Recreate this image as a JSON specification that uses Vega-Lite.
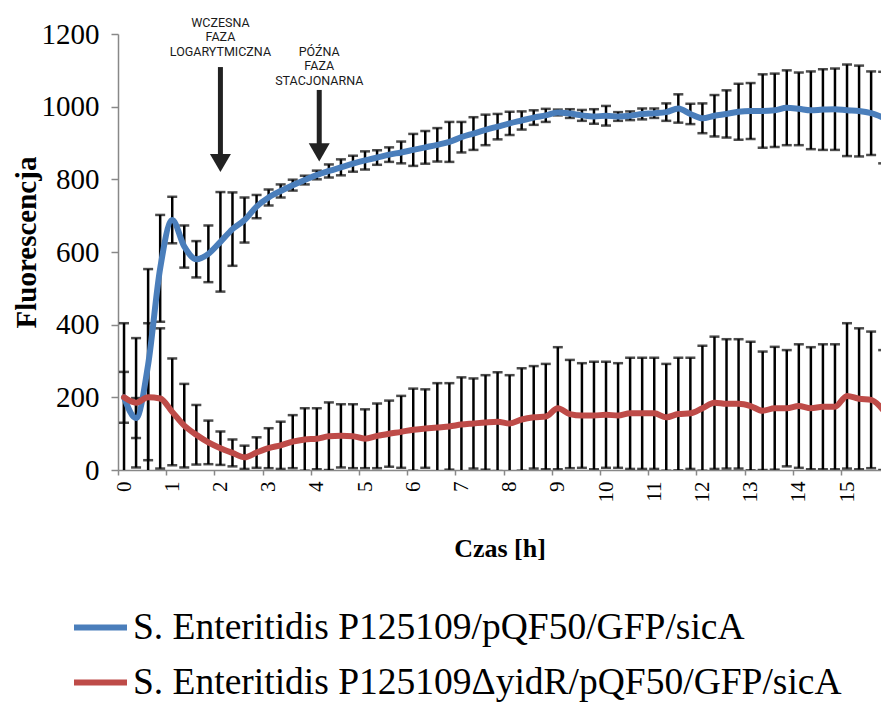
{
  "$schema": "https://vega.github.io/schema/vega-lite/v6.json",
  "width": 763,
  "height": 436,
  "autosize": {"type": "none"},
  "padding": {"left": 118, "top": 34, "right": 0, "bottom": 232},
  "background": "white",
  "config": {
    "view": {"stroke": null},
    "font": "Liberation Serif, Times New Roman, serif",
    "axis": {"labelFont": "Liberation Serif, Times New Roman, serif", "titleFont": "Liberation Serif, Times New Roman, serif", "labelColor": "black", "titleColor": "black", "grid": false, "labelOverlap": false},
    "axisX": {"labelOverlap": false},
    "legend": {"labelFont": "Liberation Serif, Times New Roman, serif"}
  },
  "datasets": {
    "series": [
      {"s":"wt","t":0,"v":200,"e":70},{"s":"wt","t":0.25,"v":143,"e":55},{"s":"wt","t":0.5,"v":290,"e":263},{"s":"wt","t":0.75,"v":555,"e":147},
      {"s":"wt","t":1,"v":688,"e":64},{"s":"wt","t":1.25,"v":615,"e":58},{"s":"wt","t":1.5,"v":580,"e":50},{"s":"wt","t":1.75,"v":595,"e":78},
      {"s":"wt","t":2,"v":628,"e":137},{"s":"wt","t":2.25,"v":663,"e":101},{"s":"wt","t":2.5,"v":688,"e":62},{"s":"wt","t":2.75,"v":725,"e":32},
      {"s":"wt","t":3,"v":750,"e":22},{"s":"wt","t":3.25,"v":768,"e":18},{"s":"wt","t":3.5,"v":784,"e":15},{"s":"wt","t":3.75,"v":798,"e":12},
      {"s":"wt","t":4,"v":812,"e":12},{"s":"wt","t":4.25,"v":823,"e":18},{"s":"wt","t":4.5,"v":833,"e":22},{"s":"wt","t":4.75,"v":843,"e":22},
      {"s":"wt","t":5,"v":852,"e":25},{"s":"wt","t":5.25,"v":860,"e":20},{"s":"wt","t":5.5,"v":868,"e":20},{"s":"wt","t":5.75,"v":874,"e":30},
      {"s":"wt","t":6,"v":881,"e":44},{"s":"wt","t":6.25,"v":888,"e":45},{"s":"wt","t":6.5,"v":895,"e":46},{"s":"wt","t":6.75,"v":903,"e":55},
      {"s":"wt","t":7,"v":916,"e":42},{"s":"wt","t":7.25,"v":926,"e":45},{"s":"wt","t":7.5,"v":936,"e":42},{"s":"wt","t":7.75,"v":945,"e":35},
      {"s":"wt","t":8,"v":954,"e":32},{"s":"wt","t":8.25,"v":962,"e":25},{"s":"wt","t":8.5,"v":970,"e":20},{"s":"wt","t":8.75,"v":976,"e":18},
      {"s":"wt","t":9,"v":984,"e":8},{"s":"wt","t":9.25,"v":981,"e":12},{"s":"wt","t":9.5,"v":976,"e":15},{"s":"wt","t":9.75,"v":973,"e":20},
      {"s":"wt","t":10,"v":975,"e":27},{"s":"wt","t":10.25,"v":973,"e":12},{"s":"wt","t":10.5,"v":975,"e":12},{"s":"wt","t":10.75,"v":980,"e":15},
      {"s":"wt","t":11,"v":982,"e":13},{"s":"wt","t":11.25,"v":985,"e":24},{"s":"wt","t":11.5,"v":995,"e":39},{"s":"wt","t":11.75,"v":980,"e":28},
      {"s":"wt","t":12,"v":968,"e":41},{"s":"wt","t":12.25,"v":975,"e":57},{"s":"wt","t":12.5,"v":980,"e":65},{"s":"wt","t":12.75,"v":986,"e":77},
      {"s":"wt","t":13,"v":988,"e":77},{"s":"wt","t":13.25,"v":988,"e":101},{"s":"wt","t":13.5,"v":990,"e":101},{"s":"wt","t":13.75,"v":997,"e":103},
      {"s":"wt","t":14,"v":994,"e":100},{"s":"wt","t":14.25,"v":990,"e":107},{"s":"wt","t":14.5,"v":992,"e":111},{"s":"wt","t":14.75,"v":993,"e":112},
      {"s":"wt","t":15,"v":990,"e":126},{"s":"wt","t":15.25,"v":988,"e":125},{"s":"wt","t":15.5,"v":982,"e":115},{"s":"wt","t":15.75,"v":970,"e":126},
      {"s":"mut","t":0,"v":200,"e":204},{"s":"mut","t":0.25,"v":185,"e":178},{"s":"mut","t":0.5,"v":200,"e":204},{"s":"mut","t":0.75,"v":197,"e":193},
      {"s":"mut","t":1,"v":160,"e":147},{"s":"mut","t":1.25,"v":122,"e":115},{"s":"mut","t":1.5,"v":97,"e":82},{"s":"mut","t":1.75,"v":76,"e":60},
      {"s":"mut","t":2,"v":60,"e":46},{"s":"mut","t":2.25,"v":47,"e":37},{"s":"mut","t":2.5,"v":35,"e":32},{"s":"mut","t":2.75,"v":48,"e":42},
      {"s":"mut","t":3,"v":60,"e":55},{"s":"mut","t":3.25,"v":68,"e":65},{"s":"mut","t":3.5,"v":78,"e":73},{"s":"mut","t":3.75,"v":84,"e":86},
      {"s":"mut","t":4,"v":86,"e":84},{"s":"mut","t":4.25,"v":93,"e":93},{"s":"mut","t":4.5,"v":94,"e":87},{"s":"mut","t":4.75,"v":93,"e":88},
      {"s":"mut","t":5,"v":86,"e":81},{"s":"mut","t":5.25,"v":94,"e":89},{"s":"mut","t":5.5,"v":100,"e":91},{"s":"mut","t":5.75,"v":105,"e":99},
      {"s":"mut","t":6,"v":111,"e":113},{"s":"mut","t":6.25,"v":114,"e":108},{"s":"mut","t":6.5,"v":117,"e":122},{"s":"mut","t":6.75,"v":120,"e":119},
      {"s":"mut","t":7,"v":125,"e":130},{"s":"mut","t":7.25,"v":128,"e":124},{"s":"mut","t":7.5,"v":131,"e":130},{"s":"mut","t":7.75,"v":133,"e":136},
      {"s":"mut","t":8,"v":128,"e":133},{"s":"mut","t":8.25,"v":139,"e":141},{"s":"mut","t":8.5,"v":145,"e":141},{"s":"mut","t":8.75,"v":147,"e":145},
      {"s":"mut","t":9,"v":170,"e":168},{"s":"mut","t":9.25,"v":154,"e":149},{"s":"mut","t":9.5,"v":150,"e":144},{"s":"mut","t":9.75,"v":150,"e":148},
      {"s":"mut","t":10,"v":152,"e":146},{"s":"mut","t":10.25,"v":150,"e":144},{"s":"mut","t":10.5,"v":156,"e":153},{"s":"mut","t":10.75,"v":156,"e":153},
      {"s":"mut","t":11,"v":156,"e":153},{"s":"mut","t":11.25,"v":145,"e":147},{"s":"mut","t":11.5,"v":154,"e":155},{"s":"mut","t":11.75,"v":156,"e":153},
      {"s":"mut","t":12,"v":170,"e":172},{"s":"mut","t":12.25,"v":185,"e":182},{"s":"mut","t":12.5,"v":182,"e":178},{"s":"mut","t":12.75,"v":182,"e":178},
      {"s":"mut","t":13,"v":176,"e":177},{"s":"mut","t":13.25,"v":163,"e":163},{"s":"mut","t":13.5,"v":170,"e":169},{"s":"mut","t":13.75,"v":170,"e":160},
      {"s":"mut","t":14,"v":176,"e":170},{"s":"mut","t":14.25,"v":170,"e":168},{"s":"mut","t":14.5,"v":174,"e":172},{"s":"mut","t":14.75,"v":174,"e":172},
      {"s":"mut","t":15,"v":204,"e":200},{"s":"mut","t":15.25,"v":196,"e":194},{"s":"mut","t":15.5,"v":193,"e":188},{"s":"mut","t":15.75,"v":165,"e":165}
    ],
    "arrows": [
      {"t": 2, "top": 1109, "head": 845},
      {"t": 4.05, "top": 1046, "head": 874}
    ],
    "notes": [
      {"t": 2, "y": 1247, "txt": "WCZESNA|FAZA|LOGARYTMICZNA"},
      {"t": 4.05, "y": 1167, "txt": "PÓŹNA|FAZA|STACJONARNA"}
    ]
  },
  "layer": [
    {
      "data": {"name": "series"},
      "mark": {"type": "errorbar", "ticks": true, "size": 10, "thickness": 2.5, "color": "black", "clip": true},
      "encoding": {
        "x": {"field": "t", "type": "quantitative", "title": "Czas [h]", "scale": {"domain": [-0.125, 15.705], "nice": false, "zero": false}, "axis": {"labelOverlap": false}},
        "y": {"field": "v", "type": "quantitative", "title": "Fluorescencja", "scale": {"domain": [0, 1200], "nice": false}},
        "yError": {"field": "e"},
        "detail": {"field": "s"}
      }
    },
    {
      "data": {"name": "series"},
      "mark": {"type": "line", "strokeWidth": 6, "interpolate": "monotone", "clip": true, "strokeCap": "round", "strokeJoin": "round"},
      "encoding": {
        "x": {
          "field": "t", "type": "quantitative", "title": "Czas [h]",
          "axis": {
            "values": [0,0.25,0.5,0.75,1,1.25,1.5,1.75,2,2.25,2.5,2.75,3,3.25,3.5,3.75,4,4.25,4.5,4.75,5,5.25,5.5,5.75,6,6.25,6.5,6.75,7,7.25,7.5,7.75,8,8.25,8.5,8.75,9,9.25,9.5,9.75,10,10.25,10.5,10.75,11,11.25,11.5,11.75,12,12.25,12.5,12.75,13,13.25,13.5,13.75,14,14.25,14.5,14.75,15,15.25,15.5,15.75],
            "format": "~g",
            "labelExpr": "indexof(datum.label, '.25') >= 0 || indexof(datum.label, '.75') >= 0 ? '' : replace(datum.label, '.', ',')",
            "tickOffset": -6.02, "labelOffset": 6.02,
            "labelAngle": -90, "labelFontSize": 21,
            "labelPadding": 6, "labelOverlap": false, "labelSeparation": 0, "labelFlush": false, "labelBound": false,
            "tickSize": 5, "tickColor": "#888888", "tickWidth": 1.5,
            "domainColor": "#888888", "domainWidth": 1.5,
            "titleFontSize": 26, "titleFontWeight": "bold",
            "titleY": 78, "titleBaseline": "middle"
          }
        },
        "y": {
          "field": "v", "type": "quantitative", "title": "Fluorescencja",
          "axis": {
            "values": [0,200,400,600,800,1000,1200], "format": "d",
            "labelFontSize": 29, "labelPadding": 12,
            "tickSize": 7, "tickColor": "#888888", "tickWidth": 1.5,
            "domainColor": "#888888", "domainWidth": 1.5,
            "titleFontSize": 29, "titleFontWeight": "bold",
            "titleX": -92, "titleY": 208, "titleAngle": -90, "titleBaseline": "middle", "titleAlign": "center"
          }
        },
        "color": {
          "field": "s", "type": "nominal",
          "scale": {"domain": ["wt", "mut"], "range": ["#4A7EBB", "#BE4B48"]},
          "legend": {
            "orient": "none", "legendX": -47, "legendY": 564, "direction": "vertical", "title": null,
            "symbolType": "stroke", "symbolSize": 2809, "symbolStrokeWidth": 6, "padding": 0, "rowPadding": 7,
            "labelFontSize": 37.5, "labelColor": "black", "labelLimit": 0, "labelOffset": 3,
            "labelExpr": "datum.value === 'wt' ? 'S. Enteritidis P125109/pQF50/GFP/sicA' : 'S. Enteritidis P125109ΔyidR/pQF50/GFP/sicA'"
          }
        }
      }
    },
    {
      "data": {"name": "arrows"},
      "mark": {"type": "rule", "strokeWidth": 5, "color": "#222222"},
      "encoding": {
        "x": {"field": "t", "type": "quantitative", "title": "Czas [h]"},
        "y": {"field": "top", "type": "quantitative", "title": "Fluorescencja"},
        "y2": {"field": "head"}
      }
    },
    {
      "data": {"name": "arrows"},
      "mark": {"type": "point", "shape": "triangle-down", "size": 441, "filled": true, "color": "#222222", "opacity": 1},
      "encoding": {
        "x": {"field": "t", "type": "quantitative", "title": "Czas [h]"},
        "y": {"field": "head", "type": "quantitative", "title": "Fluorescencja"}
      }
    },
    {
      "data": {"name": "notes"},
      "mark": {"type": "text", "font": "Roboto", "fontSize": 12.5, "lineBreak": "|", "lineHeight": 14.5, "baseline": "top", "align": "center", "color": "#1a1a1a"},
      "encoding": {
        "x": {"field": "t", "type": "quantitative", "title": "Czas [h]"},
        "y": {"field": "y", "type": "quantitative", "title": "Fluorescencja"},
        "text": {"field": "txt"}
      }
    }
  ]
}
